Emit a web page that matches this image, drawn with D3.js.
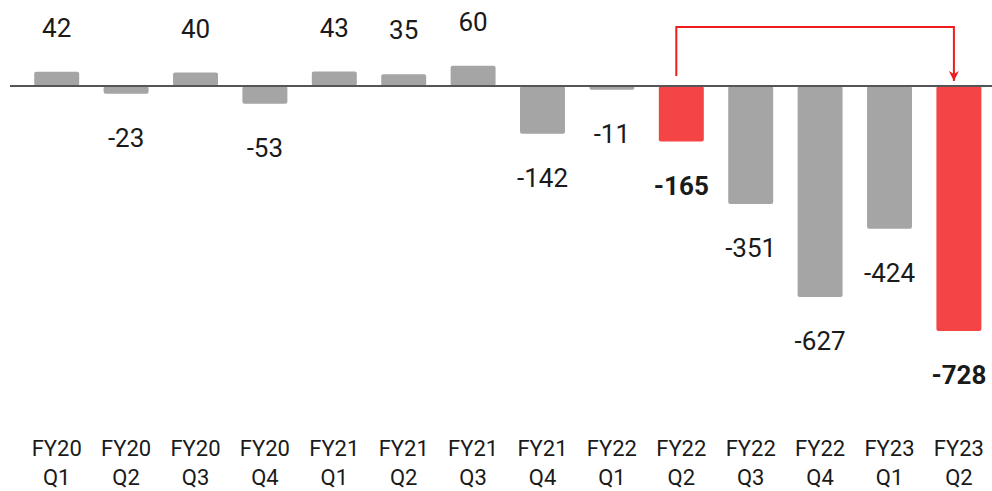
<!DOCTYPE html>
<html>
<head>
<meta charset="utf-8">
<script src="https://cdn.jsdelivr.net/npm/d3@7"></script>
<style>
  html, body { margin: 0; padding: 0; background: #fff; }
  svg { display: block; font-family: Roboto, "Noto Sans", sans-serif; }
</style>
</head>
<body>
<svg id="chart" width="992" height="491"></svg>
<script>
// Quarterly values
const fiscalYears = ["FY20","FY20","FY20","FY20","FY21","FY21","FY21","FY21","FY22","FY22","FY22","FY22","FY23","FY23"];
const quarters    = ["Q1","Q2","Q3","Q4","Q1","Q2","Q3","Q4","Q1","Q2","Q3","Q4","Q1","Q2"];
const values      = [42, -23, 40, -53, 43, 35, 60, -142, -11, -165, -351, -627, -424, -728];
const highlighted = [false,false,false,false,false,false,false,false,false,true,false,false,false,true];

const categories = fiscalYears.map((fy, i) => fy + " " + quarters[i]);

const W = 992, H = 491;
const svg = d3.select("#chart");

const x = d3.scaleBand()
  .domain(categories)
  .range([22, 993.6])
  .paddingInner(0.352)
  .paddingOuter(0.176);

const y = d3.scaleLinear()
  .domain([-800, 100])
  .range([86 + 800 * 0.3365, 86 - 100 * 0.3365]);

const GREY = "#a5a5a5", RED = "#f44446";

const data = categories.map((c, i) => ({ c, v: values[i], hi: highlighted[i], fy: fiscalYears[i], q: quarters[i] }));

// bars
svg.append("g").selectAll("rect").data(data).join("rect")
  .attr("x", d => x(d.c))
  .attr("width", x.bandwidth())
  .attr("y", d => Math.min(y(d.v), y(0)))
  .attr("height", d => Math.abs(y(d.v) - y(0)))
  .attr("rx", 2)
  .attr("fill", d => d.hi ? RED : GREY);

// zero line
svg.append("line")
  .attr("x1", 10).attr("x2", W)
  .attr("y1", y(0)).attr("y2", y(0))
  .attr("stroke", "#555").attr("stroke-width", 2);

// value labels
svg.append("g").selectAll("text").data(data).join("text")
  .attr("x", d => x(d.c) + x.bandwidth() / 2)
  .attr("y", d => d.v >= 0 ? y(d.v) - 44 : y(d.v) + 44)
  .attr("text-anchor", "middle")
  .attr("dominant-baseline", "central")
  .attr("font-size", 26)
  .attr("font-weight", d => d.hi ? 700 : 400)
  .attr("fill", "#1a1a1a")
  .text(d => d.v);

// category labels, two lines each
const catG = svg.append("g");
catG.selectAll("text.fy").data(data).join("text")
  .attr("class", "fy")
  .attr("x", d => x(d.c) + x.bandwidth() / 2)
  .attr("y", 456)
  .attr("text-anchor", "middle")
  .attr("font-size", 22)
  .attr("fill", "#1a1a1a")
  .text(d => d.fy);
catG.selectAll("text.q").data(data).join("text")
  .attr("class", "q")
  .attr("x", d => x(d.c) + x.bandwidth() / 2)
  .attr("y", 485)
  .attr("text-anchor", "middle")
  .attr("font-size", 22)
  .attr("fill", "#1a1a1a")
  .text(d => d.q);

// comparison arrow between highlighted quarters
const hiData = data.filter(d => d.hi);
const ax0 = x(hiData[0].c) + x.bandwidth() / 2 - 5;
const ax1 = x(hiData[1].c) + x.bandwidth() / 2 - 5;
svg.append("defs").append("marker")
  .attr("id", "arrowhead")
  .attr("viewBox", "0 0 10 10")
  .attr("refX", 10).attr("refY", 5)
  .attr("markerWidth", 5).attr("markerHeight", 5)
  .attr("markerUnits", "strokeWidth")
  .attr("orient", "auto")
  .append("path").attr("d", "M0,0 L10,5 L0,10 L3,5 Z").attr("fill", "#ee1c1c");

svg.append("path")
  .attr("d", `M${ax0},${y(0) - 10} V27 H${ax1} V${y(0) - 5}`)
  .attr("fill", "none")
  .attr("stroke", "#ee1c1c")
  .attr("stroke-width", 2)
  .attr("marker-end", "url(#arrowhead)");
</script>
</body>
</html>
